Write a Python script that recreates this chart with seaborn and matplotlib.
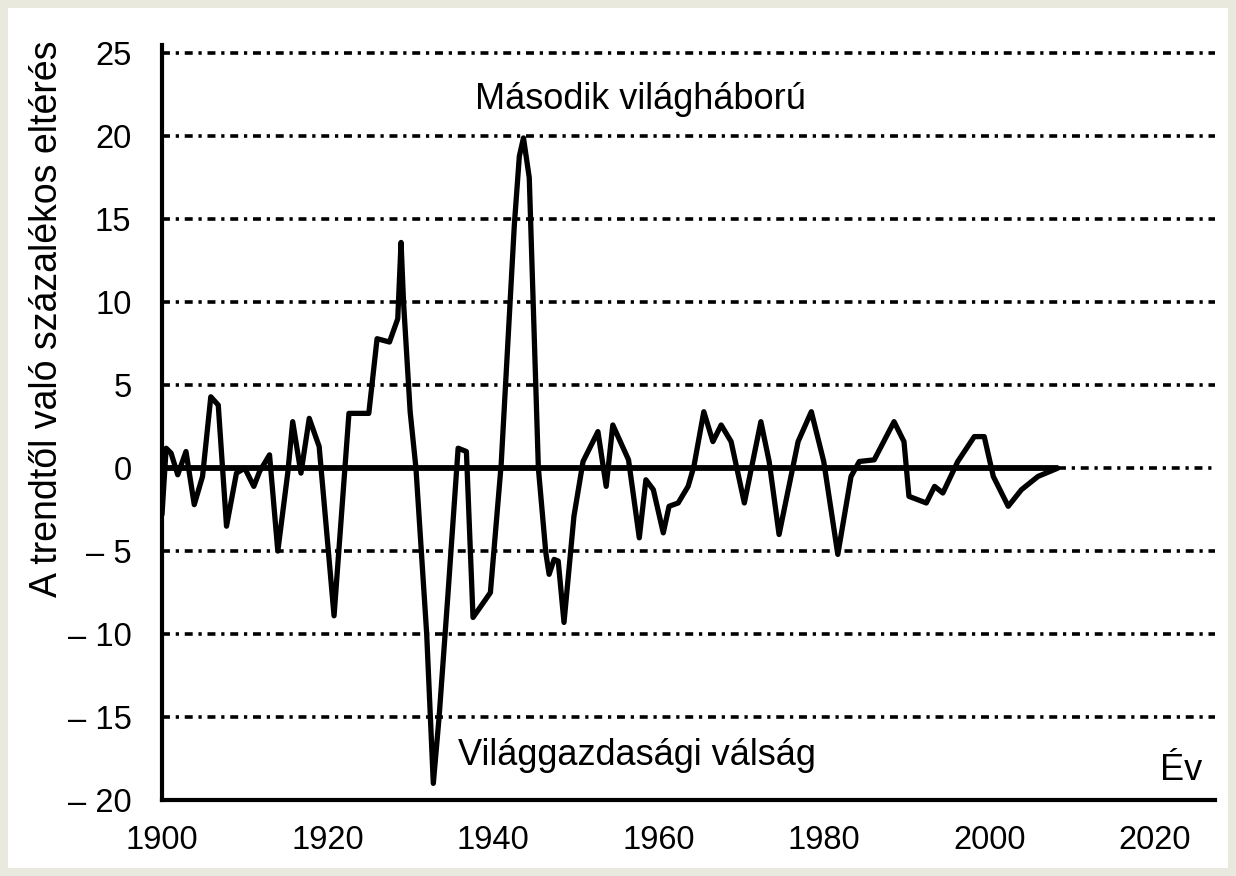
import numpy as np
import pandas as pd
import matplotlib
matplotlib.use("Agg")
import matplotlib.pyplot as plt
import seaborn as sns
from matplotlib.patches import Rectangle

# Data (year, % deviation from trend)
years = [1900.0, 1900.5, 1901.1, 1901.9, 1902.9, 1903.9, 1904.9, 1905.9, 1906.8, 1907.8,
         1909.0, 1910.0, 1911.1, 1911.8, 1913.0, 1914.0, 1915.2, 1915.8, 1916.8, 1917.8,
         1919.0, 1920.8, 1922.6, 1925.0, 1926.0, 1927.5, 1928.0, 1928.5, 1928.9, 1929.2,
         1930.0, 1930.7, 1932.0, 1932.8, 1933.5, 1934.6, 1935.8, 1936.8, 1937.6, 1939.7,
         1941.0, 1942.6, 1943.2, 1943.7, 1944.4, 1945.5, 1946.4, 1946.8, 1947.4, 1947.9,
         1948.6, 1949.8, 1950.9, 1952.7, 1953.7, 1954.5, 1956.4, 1957.7, 1958.5, 1959.4,
         1960.6, 1961.3, 1962.4, 1963.6, 1964.3, 1965.5, 1966.6, 1967.6, 1968.8, 1970.4,
         1972.4, 1973.4, 1974.6, 1976.9, 1978.5, 1980.0, 1981.7, 1983.3, 1984.3, 1986.1,
         1988.5, 1989.7, 1990.3, 1992.4, 1993.4, 1994.4, 1996.2, 1998.2, 1999.4, 2000.5,
         2002.3, 2003.9, 2005.9, 2008.3]
values = [-2.8, 1.2, 0.9, -0.4, 1.0, -2.2, -0.5, 4.3, 3.8, -3.5,
          -0.3, 0.0, -1.1, -0.2, 0.8, -5.0, -0.3, 2.8, -0.3, 3.0,
          1.3, -8.9, 3.3, 3.3, 7.8, 7.6, 8.3, 9.0, 13.6, 10.0,
          3.4, 0.0, -10.0, -19.0, -15.0, -7.4, 1.2, 1.0, -9.0, -7.5,
          0.2, 14.7, 18.8, 19.9, 17.5, 0.0, -5.1, -6.4, -5.5, -5.6,
          -9.3, -2.9, 0.4, 2.2, -1.1, 2.6, 0.5, -4.2, -0.7, -1.3,
          -3.9, -2.3, -2.1, -1.1, 0.1, 3.4, 1.6, 2.6, 1.6, -2.1,
          2.8, 0.4, -4.0, 1.6, 3.4, 0.4, -5.2, -0.5, 0.4, 0.5,
          2.8, 1.6, -1.7, -2.1, -1.1, -1.5, 0.4, 1.9, 1.9, -0.5,
          -2.3, -1.3, -0.5, 0.0]

x_ticks = [1900, 1920, 1940, 1960, 1980, 2000, 2020]
y_ticks = [-20, -15, -10, -5, 0, 5, 10, 15, 20, 25]
y_labels = ["\u2013 20", "\u2013 15", "\u2013 10", "\u2013 5", "0", "5", "10", "15", "20", "25"]

df = pd.DataFrame({"year": years, "value": values})

sns.set_style("white")
plt.rcParams["font.family"] = ["Liberation Sans", "DejaVu Sans"]
plt.rcParams["text.color"] = "black"
plt.rcParams["xtick.color"] = "black"
plt.rcParams["ytick.color"] = "black"
plt.rcParams["axes.labelcolor"] = "black"

fig = plt.figure(figsize=(12.36, 8.76), dpi=100)
fig.patch.set_facecolor("#e9e9dd")
fig.patches.append(Rectangle((8 / 1236, 8 / 876), 1220 / 1236, 860 / 876,
                             transform=fig.transFigure, facecolor="white",
                             edgecolor="none", zorder=-5))

ax = fig.add_axes([162 / 1236, 76 / 876, 1053 / 1236, 755 / 876])
ax.set_facecolor("none")

# dotted guide lines
grid_style = dict(color="black", lw=2.6, linestyle=(0, (2.2, 1.6, 0.9, 1.6)), zorder=1)
for v in y_ticks:
    if v in (-20, 0):
        continue
    ax.axhline(v, **grid_style)
ax.hlines(0, years[-1], 2027.3, **grid_style)
ax.hlines(0, years[0], years[-1], color="black", lw=4.2, zorder=2)

sns.lineplot(data=df, x="year", y="value", color="black", lw=3.8, ax=ax, zorder=3,
             solid_joinstyle="round", solid_capstyle="round")

ax.set_xlim(1900, 2027.3)
ax.set_ylim(-20, 25.5)
ax.set_xticks(x_ticks)
ax.set_yticks(y_ticks)
ax.set_yticklabels(y_labels)
ax.tick_params(axis="x", direction="in", length=15, width=2.5, pad=18, labelsize=23.5)
ax.tick_params(axis="y", direction="in", length=0, pad=22, labelsize=23.5)
ax.set_xlabel("")
ax.set_ylabel("A trendtől való százalékos eltérés", fontsize=27)
ax.yaxis.set_label_coords(-0.092, 0.638)

for side in ["top", "right"]:
    ax.spines[side].set_visible(False)
for side in ["left", "bottom"]:
    ax.spines[side].set_linewidth(3)
    ax.spines[side].set_color("black")

ax.text(1937.8, 22.2, "Második világháború", fontsize=26, ha="left", va="center")
ax.text(1935.8, -17.3, "Világgazdasági válság", fontsize=26, ha="left", va="center")
ax.text(2020.7, -18.2, "Év", fontsize=26, ha="left", va="center")

fig.savefig("out.png", dpi=100, facecolor=fig.get_facecolor())
